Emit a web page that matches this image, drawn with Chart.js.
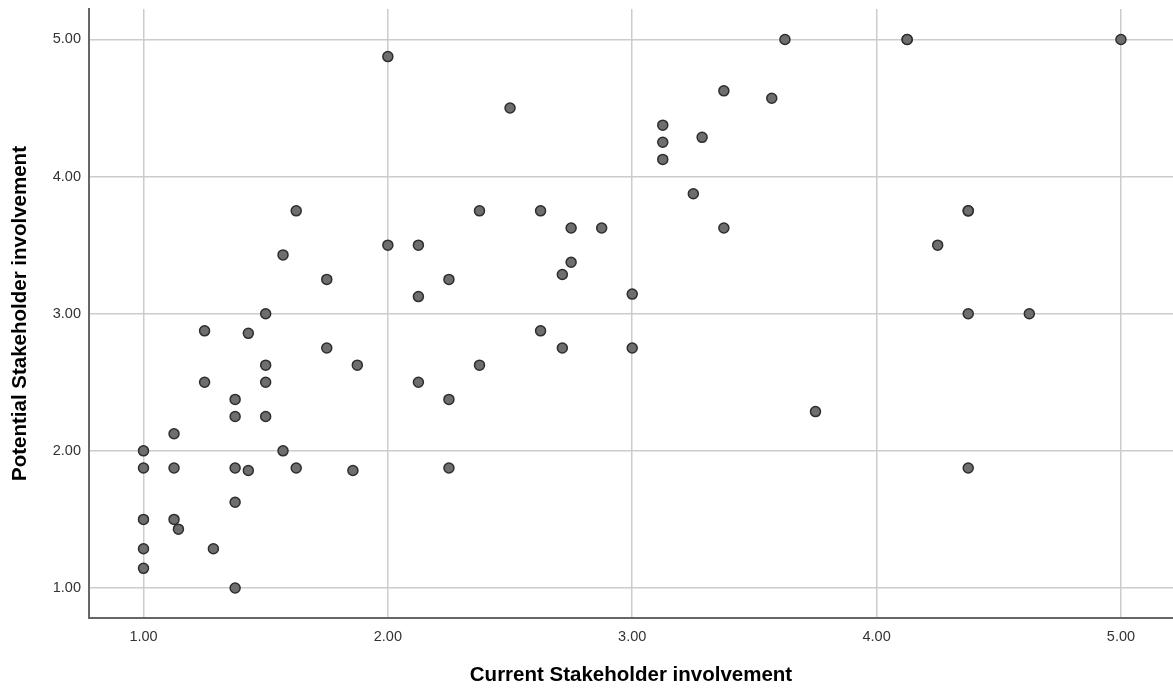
<!DOCTYPE html>
<html>
<head>
<meta charset="utf-8">
<script src="https://cdn.jsdelivr.net/npm/chart.js@4/dist/chart.umd.min.js"></script>
<style>
  html, body { margin: 0; padding: 0; background: #fff; }
  canvas { display: block; }
</style>
</head>
<body>
<canvas id="chart" width="1173" height="691"></canvas>
<script>
// Current (x) and potential (y) stakeholder involvement, one entry per respondent
const currentInvolvement = [
  1.000, 1.000, 1.000, 1.000, 1.000,
  1.125, 1.125, 1.125, 1.143,
  1.250, 1.250, 1.286,
  1.375, 1.375, 1.375, 1.375, 1.375,
  1.429, 1.429,
  1.500, 1.500, 1.500, 1.500,
  1.571, 1.571, 1.625, 1.625,
  1.750, 1.750, 1.875, 1.857,
  2.000, 2.000,
  2.125, 2.125, 2.125,
  2.250, 2.250, 2.250,
  2.375, 2.375, 2.500,
  2.625, 2.625,
  2.750, 2.750, 2.714, 2.714, 2.875,
  3.000, 3.000,
  3.125, 3.125, 3.125, 3.286, 3.250,
  3.375, 3.375, 3.571, 3.625, 3.750,
  4.125, 4.125, 4.250,
  4.375, 4.375, 4.375, 4.375,
  4.625, 5.000
];
const potentialInvolvement = [
  2.000, 1.875, 1.500, 1.286, 1.143,
  2.125, 1.875, 1.500, 1.429,
  2.875, 2.500, 1.286,
  2.375, 2.250, 1.875, 1.625, 1.000,
  2.857, 1.857,
  3.000, 2.625, 2.500, 2.250,
  2.000, 3.429, 3.750, 1.875,
  3.250, 2.750, 2.625, 1.857,
  4.875, 3.500,
  3.500, 3.125, 2.500,
  3.250, 2.375, 1.875,
  3.750, 2.625, 4.500,
  3.750, 2.875,
  3.625, 3.375, 3.286, 2.750, 3.625,
  3.143, 2.750,
  4.375, 4.250, 4.125, 4.286, 3.875,
  4.625, 3.625, 4.571, 5.000, 2.286,
  5.000, 5.000, 3.500,
  3.750, 3.750, 3.000, 1.875,
  3.000, 5.000
];
const tickValues = [1, 2, 3, 4, 5];

const points = currentInvolvement.map((x, i) => ({ x: x, y: potentialInvolvement[i] }));

const tickFont = { family: '"Liberation Sans", Arial, sans-serif', size: 14.5 };
const titleFont = { family: '"Liberation Sans", Arial, sans-serif', size: 20.5, weight: 'bold' };

new Chart(document.getElementById('chart'), {
  type: 'scatter',
  data: {
    datasets: [{
      label: 'Stakeholder involvement',
      data: points,
      pointRadius: 5,
      pointHoverRadius: 5,
      backgroundColor: '#6e6e6e',
      borderColor: '#2e2e2e',
      borderWidth: 1.5
    }]
  },
  options: {
    responsive: false,
    animation: false,
    devicePixelRatio: 1,
    layout: { autoPadding: false, padding: { top: 9, right: 0, left: 0, bottom: 0 } },
    plugins: { legend: { display: false }, tooltip: { enabled: false } },
    scales: {
      x: {
        type: 'linear',
        min: 0.777,
        max: 5.213,
        afterBuildTicks: (axis) => { axis.ticks = tickValues.map(v => ({ value: v })); },
        afterFit: (axis) => {
          axis.height = 73;
          axis.paddingLeft = 0;
          axis.paddingRight = 0;
        },
        ticks: {
          font: tickFont,
          color: '#333',
          padding: 10,
          maxRotation: 0,
          callback: (v) => Number(v).toFixed(2)
        },
        grid: { color: '#cccccc', lineWidth: 1.5, drawTicks: false },
        border: { color: '#666', width: 2 },
        title: {
          display: true,
          text: 'Current Stakeholder involvement',
          font: titleFont,
          color: '#000',
          padding: { top: 0, bottom: 3 }
        }
      },
      y: {
        type: 'linear',
        min: 0.781,
        max: 5.222,
        afterBuildTicks: (axis) => { axis.ticks = tickValues.map(v => ({ value: v })); },
        afterFit: (axis) => {
          axis.width = 89;
          axis.paddingTop = 0;
          axis.paddingBottom = 0;
        },
        ticks: {
          font: tickFont,
          color: '#333',
          padding: 8,
          callback: (v) => Number(v).toFixed(2)
        },
        grid: { color: '#cccccc', lineWidth: 1.5, drawTicks: false },
        border: { color: '#666', width: 2 },
        title: {
          display: true,
          text: 'Potential Stakeholder involvement',
          font: titleFont,
          color: '#000',
          padding: { top: 8, bottom: 0 }
        }
      }
    }
  }
});
</script>
</body>
</html>
